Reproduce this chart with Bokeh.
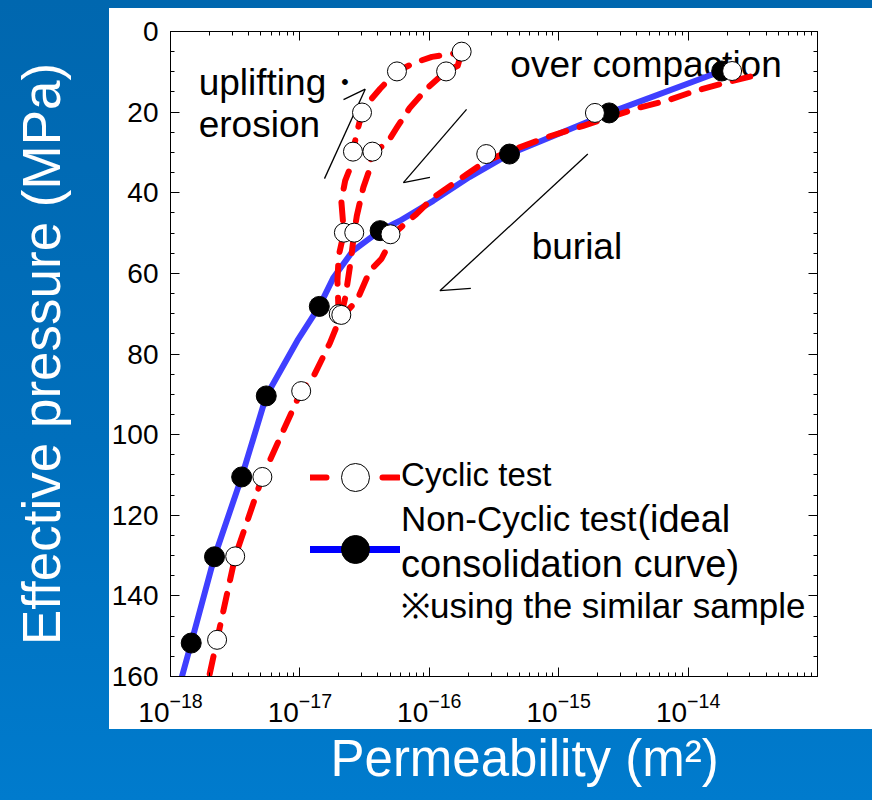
import numpy as np
from bokeh.plotting import figure
from bokeh.models import (Range1d, FixedTicker, SingleIntervalTicker, LinearAxis, LogAxis,
                          LogTickFormatter, Title, Legend, LegendItem)
from bokeh.core.properties import value
from bokeh.embed import file_html
from bokeh.resources import INLINE

# ---------------------------------------------------------------- data
# Non-cyclic test (ideal consolidation): effective pressure [MPa], log10 permeability [m^2]
noncyc_p = [9.8, 20.2, 30.4, 49.4, 68.2, 90.4, 110.5, 130.3, 151.7]
noncyc_logk = [-13.74, -14.61, -15.38, -16.38, -16.85, -17.26, -17.45, -17.66, -17.84]

# Ideal consolidation curve
ideal_p = [9.8, 20.2, 30.4, 36.1, 42.0, 47.0, 49.4, 54.4, 61.0, 68.2, 76.7,
           90.4, 110.5, 130.3, 151.7, 161.0]
ideal_logk = [-13.74, -14.61, -15.38, -15.69, -15.97, -16.23, -16.38, -16.59, -16.74,
              -16.85, -17.02, -17.26, -17.45, -17.66, -17.84, -17.92]

# Cyclic test measurements
cyc_p = [9.8, 20.2, 30.4, 50.3, 70.1, 70.3, 49.9, 29.8, 20.1, 9.9, 5.0, 9.9, 29.8, 49.9,
         89.2, 110.5, 130.2, 150.9]
cyc_logk = [-13.66, -14.72, -15.56, -16.30, -16.70, -16.68, -16.66, -16.59, -16.52, -16.25,
            -15.75, -15.87, -16.44, -16.58, -16.99, -17.29, -17.50, -17.64]

# Cyclic test path: burial (loading), uplifting/erosion (unloading), reloading
load_p = [11.2, 12.7, 14.7, 17.2, 18.9, 21.3, 23.4, 26.3, 29.1, 32.1, 35.4, 41.2, 45.3,
          49.7, 56.4, 59.4, 66.8, 70.5]
load_logk = [-13.52, -13.71, -13.94, -14.17, -14.38, -14.61, -14.81, -15.10, -15.33, -15.56,
             -15.71, -15.97, -16.10, -16.26, -16.37, -16.46, -16.56, -16.67]
unload_p = [70.5, 61.8, 55.6, 49.9, 42.0, 37.0, 33.7, 29.8, 25.1, 20.1, 17.2, 14.2, 9.9,
            7.7, 6.3, 5.6, 5.0]
unload_logk = [-16.70, -16.71, -16.70, -16.66, -16.68, -16.65, -16.61, -16.59, -16.56, -16.52,
               -16.46, -16.38, -16.25, -16.11, -15.98, -15.83, -15.75]
reload_p = [5.0, 8.5, 9.9, 14.2, 18.9, 23.8, 27.9, 29.8, 35.0, 38.7, 45.7, 49.9, 57.6, 66.1,
            70.3, 77.4, 85.9, 89.2, 110.5, 130.2, 150.9, 159.8]
reload_logk = [-15.75, -15.78, -15.87, -16.02, -16.15, -16.25, -16.33, -16.44, -16.47, -16.51,
               -16.56, -16.58, -16.61, -16.65, -16.68, -16.77, -16.90, -16.99, -17.29, -17.50,
               -17.64, -17.70]

x_major = [1e-18, 1e-17, 1e-16, 1e-15, 1e-14]
y_tick_step = 20

FONT = "Liberation Sans"


def k(logs):
    return [10.0 ** v for v in logs]


# ---------------------------------------------------------------- figure
p = figure(width=872, height=800, output_backend="svg", toolbar_location=None,
           x_axis_type="log", x_range=Range1d(1e-18, 1e-13), y_range=Range1d(160, 0),
           min_border_left=170, min_border_right=55, min_border_top=31, min_border_bottom=124,
           border_fill_color=None, background_fill_color="white",
           outline_line_color="black", outline_line_width=1)
p.xgrid.visible = False
p.ygrid.visible = False

# slide backdrop: blue gradient with the white chart panel on top of it
p.styles = {
    "background": ("linear-gradient(#ffffff, #ffffff) 109px 8px / 763px 721px no-repeat, "
                   "linear-gradient(180deg, #0067af 0%, #006fbc 55%, #007bcd 100%)"),
}

x_minor = [m * 10.0 ** d for d in range(-18, -13) for m in range(2, 10)]
xticker = FixedTicker(ticks=x_major, minor_ticks=x_minor)
yticker = SingleIntervalTicker(interval=y_tick_step, num_minor_ticks=4)


def style_axis(ax, labels=True):
    ax.axis_line_color = "black"
    ax.axis_line_width = 1
    ax.major_tick_in = 9
    ax.major_tick_out = 0
    ax.minor_tick_in = 4
    ax.minor_tick_out = 0
    ax.major_tick_line_color = "black"
    ax.minor_tick_line_color = "black"
    if labels:
        ax.major_label_text_font = FONT
        ax.major_label_text_font_size = "28px"
        ax.major_label_text_color = "black"
    else:
        ax.major_label_text_font_size = "1px"
        ax.major_label_text_alpha = 0
        ax.major_label_standoff = 0


xa = p.xaxis[0]
xa.ticker = xticker
xa.formatter = LogTickFormatter()
style_axis(xa)
xa.major_label_standoff = 16

ya = p.yaxis[0]
ya.ticker = yticker
style_axis(ya)
ya.major_label_standoff = 12
# pressure title, white on the blue slide
ya.axis_label = "Effective pressure (MPa)"
ya.axis_label_standoff = 38
ya.axis_label_text_font = FONT
ya.axis_label_text_font_size = "53px"
ya.axis_label_text_font_style = "normal"
ya.axis_label_text_color = "white"

top = LogAxis(ticker=xticker)
style_axis(top, labels=False)
p.add_layout(top, "above")
right = LinearAxis(ticker=yticker)
style_axis(right, labels=False)
p.add_layout(right, "right")

# permeability title, white on the blue slide
p.add_layout(Title(text="Permeability (m\u00b2)", align="left", offset=160, standoff=6,
                   text_font=FONT, text_font_size="51px", text_font_style="normal",
                   text_color="white"), "below")


# ---------------------------------------------------------------- annotations in the plot
def note(text, logx, y, size="37px"):
    p.text(x=[10 ** logx], y=[y], text=[text], text_font=value(FONT), text_font_size=size,
           text_color="black", text_baseline="alphabetic", text_align="left")


note("uplifting\u30fb", -17.782, 12.65)
note("erosion", -17.782, 22.97)
note("over compaction", -15.374, 8.1)
note("burial", -15.209, 53.4)

arrows = [
    # uplifting / erosion
    ((-16.81, 36.5), (-16.495, 14.3)), ((-16.495, 14.3), (-16.663, 16.9)),
    # reloading
    ((-15.712, 19.3), (-16.200, 37.5)), ((-16.200, 37.5), (-15.995, 36.2)),
    # burial
    ((-14.775, 30.4), (-15.918, 64.3)), ((-15.918, 64.3), (-15.679, 63.7)),
]
p.segment(x0=[10 ** a[0][0] for a in arrows], y0=[a[0][1] for a in arrows],
          x1=[10 ** a[1][0] for a in arrows], y1=[a[1][1] for a in arrows],
          line_color="black", line_width=1.3)

# ---------------------------------------------------------------- data marks
p.line(k(ideal_logk), ideal_p, line_color="#3f3fff", line_width=6,
       line_cap="round", line_join="round")
p.multi_line([k(load_logk), k(unload_logk), k(reload_logk)], [load_p, unload_p, reload_p],
             line_color="red", line_width=6, line_dash="18 14",
             line_cap="round", line_join="round")
p.scatter(k(noncyc_logk), noncyc_p, marker="circle", size=20,
          fill_color="black", line_color="black")
p.scatter(k(cyc_logk), cyc_p, marker="circle", size=19,
          fill_color="white", line_color="black", line_width=1)

# ---------------------------------------------------------------- legend
# legend samples: one-point renderers placed outside the visible pressure range
lg_x, lg_y = [1e-20], [-50.0]
lg_cyc_line = p.line(lg_x, lg_y, line_color="red", line_width=6, line_dash="16 56", line_cap="round")
lg_cyc_dot = p.scatter(lg_x, lg_y, marker="circle", size=27, fill_color="white",
                       line_color="black", line_width=1)
lg_non_line = p.line(lg_x, lg_y, line_color="#0000ff", line_width=7, line_cap="round")
lg_non_dot = p.scatter(lg_x, lg_y, marker="circle", size=29, fill_color="black", line_color="black")
legend = Legend(items=[LegendItem(label="\u00a0", renderers=[lg_cyc_line, lg_cyc_dot]),
                       LegendItem(label="\u00a0", renderers=[lg_non_line, lg_non_dot])],
                location=(140, 92), glyph_width=90, glyph_height=70, spacing=2,
                padding=0, margin=0, border_line_color=None, background_fill_alpha=0,
                label_text_font_size="2px", label_standoff=0)
p.add_layout(legend)

note("Cyclic test", -16.218, 109.8, "33px")
note("Non-Cyclic test", -16.218, 120.9, "35px")
note("(ideal", -14.392, 120.9, "38px")
note("consolidation curve)", -16.218, 132.0, "38px")
note("\u203busing the similar sample", -16.218, 142.4, "35px")

open("out.html", "w").write(file_html(p, INLINE))
